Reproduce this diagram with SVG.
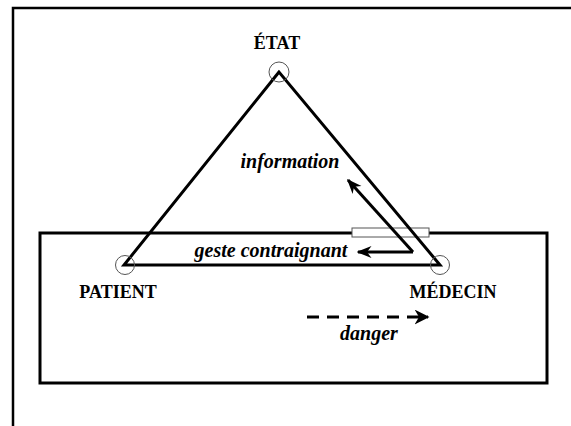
<svg xmlns="http://www.w3.org/2000/svg" width="571" height="426" viewBox="0 0 571 426">
<style>
.lbl{font-family:'Liberation Serif','Times New Roman',serif;font-weight:bold;font-size:18px;fill:#000;text-anchor:middle}
.it{font-style:italic;font-size:20px}
.vtx{fill:none;stroke:#555;stroke-width:1}
.arr{fill:none;stroke:#000;stroke-width:3}
</style>
<defs>
<marker id="ah" viewBox="0 0 10 10" refX="9" refY="5" markerWidth="5" markerHeight="5" orient="auto" markerUnits="strokeWidth">
<path d="M0,1 L10,5 L0,9 L3,5 Z" fill="#000"/>
</marker>
<marker id="ah2" viewBox="0 0 10 10" refX="9" refY="5" markerWidth="5" markerHeight="5" orient="auto" markerUnits="strokeWidth">
<path d="M0,0 L10,5 L0,10 L3,5 Z" fill="#000"/>
</marker>
</defs>
<rect width="571" height="426" fill="#fff"/>
<g id="frame">
<path d="M13,426 V8 H571" fill="none" stroke="#000" stroke-width="2.5"/>
<rect x="40" y="233" width="507" height="150" fill="none" stroke="#000" stroke-width="3"/>
<rect x="352" y="228" width="77" height="9" fill="#fff" stroke="#555" stroke-width="1"/>
</g>
<g id="connectors">
<polygon points="279,72 124,265 440,265" fill="none" stroke="#000" stroke-width="3" stroke-linejoin="miter"/>
<polyline class="arr" points="413,252 348,180" marker-end="url(#ah)"/>
<polyline class="arr" points="413,252 358,252" marker-end="url(#ah)"/>
<line x1="307" y1="317" x2="428" y2="317" stroke="#000" stroke-width="3" stroke-dasharray="12,8" marker-end="url(#ah2)"/>
</g>
<g id="etat">
<circle class="vtx" cx="279" cy="72" r="10"/>
<text class="lbl" x="277" y="49" font-family="Liberation Serif, serif">ÉTAT</text>
</g>
<g id="patient">
<circle class="vtx" cx="125" cy="265" r="9.5"/>
<text class="lbl" x="118" y="298" font-family="Liberation Serif, serif">PATIENT</text>
</g>
<g id="medecin">
<circle class="vtx" cx="440" cy="265" r="9.5"/>
<text class="lbl" x="453" y="298" font-family="Liberation Serif, serif">MÉDECIN</text>
</g>
<g id="labels">
<text class="lbl it" x="290" y="168" font-family="Liberation Serif, serif">information</text>
<text class="lbl it" x="271" y="257" font-family="Liberation Serif, serif">geste contraignant</text>
<text class="lbl it" x="369" y="340" font-family="Liberation Serif, serif">danger</text>
</g>
</svg>
